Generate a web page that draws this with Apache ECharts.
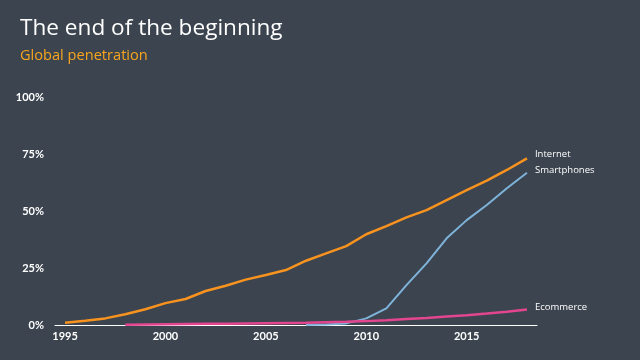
<!DOCTYPE html>
<html><head><meta charset="utf-8">
<script src="https://cdn.jsdelivr.net/npm/echarts@6/dist/echarts.min.js"></script>
<style>html,body{margin:0;padding:0;background:#3c444f;}#c{width:640px;height:360px;}</style>
</head><body><div id="c"></div>
<script>
var years = [1995,1996,1997,1998,1999,2000,2001,2002,2003,2004,2005,2006,2007,2008,2009,2010,2011,2012,2013,2014,2015,2016,2017,2018];
var internet = [1.0,1.9,2.9,4.7,6.9,9.6,11.4,14.9,17.2,19.9,21.9,24.1,28.2,31.4,34.6,39.8,43.4,47.2,50.4,54.8,59.2,63.3,68.0,73.1];
var smartYears = [2007,2008,2009,2010,2011,2012,2013,2014,2015,2016,2017,2018];
var smartphones = [0,0.2,0.7,2.9,7.3,17.5,27.0,38.0,46.0,52.6,60.0,66.8];
var ecomYears = [1998,1999,2000,2001,2002,2003,2004,2005,2006,2007,2008,2009,2010,2011,2012,2013,2014,2015,2016,2017,2018];
var ecommerce = [0.1,0.2,0.3,0.4,0.5,0.6,0.7,0.8,0.9,1.0,1.2,1.4,1.7,2.1,2.6,3.1,3.7,4.3,5.0,5.8,6.8];
var yTicks = [0,25,50,75,100];
var xLabelYears = [1995,2000,2005,2010,2015];

function pairs(xs, ys){ return xs.map(function(x,i){return [x, ys[i]];}); }
var font = 'Lato, "Open Sans", sans-serif';
var tfont = '"Open Sans", Lato, sans-serif';
function mk(name, xs, ys, color, w, off){
  return {
    name: name, type: 'line', data: pairs(xs, ys), symbol: 'none',
    lineStyle: {color: color, width: w}, itemStyle:{color:color},
    endLabel: {show: true, formatter: name, color: '#ffffff', fontSize: 9.5, fontFamily: tfont, distance: 8, offset: off}
  };
}
var chart = echarts.init(document.getElementById('c'));
chart.setOption({
  backgroundColor: '#3c444f',
  animation: false,
  title: [
    {text: 'The end of the beginning', left: 15, top: 12, textStyle: {color: '#ffffff', fontSize: 22.6, fontWeight: 'normal', fontFamily: tfont}},
    {text: 'Global penetration', left: 15, top: 43, textStyle: {color: '#f7a51c', fontSize: 14.6, fontWeight: 'normal', fontFamily: tfont}}
  ],
  grid: {left: 55, right: 103, top: 97, bottom: 35},
  xAxis: {
    type: 'value', min: 1994.5, max: 2018.5, interval: 0.5,
    axisLine: {show: true, lineStyle: {color: '#ffffff', width: 1}},
    axisTick: {show: false}, splitLine: {show: false},
    axisLabel: {color: '#ffffff', fontSize: 11, fontWeight: 'bold', fontFamily: font, margin: 6, showMinLabel: true, showMaxLabel: true,
      formatter: function(v){ return xLabelYears.indexOf(v) >= 0 ? String(v) : ''; }}
  },
  yAxis: {
    type: 'value', min: yTicks[0], max: yTicks[yTicks.length-1], interval: 25,
    axisLine: {show: false}, axisTick: {show: false}, splitLine: {show: false},
    axisLabel: {color: '#ffffff', fontSize: 11, fontWeight: 'bold', fontFamily: font, margin: 11, formatter: '{value}%'}
  },
  series: [
    mk('Internet', years, internet, '#f7931e', 2.5, [0,-4]),
    mk('Smartphones', smartYears, smartphones, '#7eb3da', 2, [0,-2]),
    mk('Ecommerce', ecomYears, ecommerce, '#e4458f', 2.5, [0,-2])
  ]
});
</script></body></html>
